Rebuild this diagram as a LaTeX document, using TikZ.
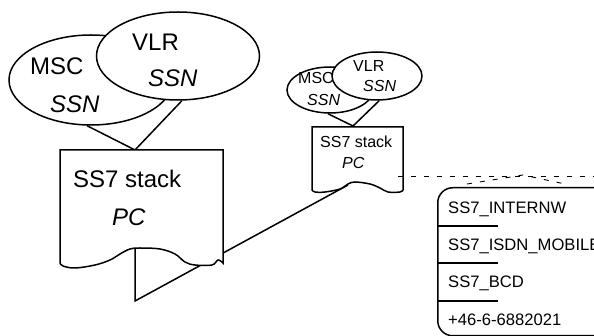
\documentclass[tikz,border=0pt]{standalone}
\usepackage{fontspec}
\setmainfont{Liberation Sans}
\usetikzlibrary{shapes.geometric}

\begin{document}
\begin{tikzpicture}[x=1pt, y=-1pt,
    bubble/.style={draw, ellipse, fill=white, line width=1.5pt, inner sep=0pt},
    bigtxt/.style={font=\fontsize{24}{28}\selectfont, anchor=base west, inner sep=0pt},
    smalltxt/.style={font=\fontsize{16}{19}\selectfont, anchor=base west, inner sep=0pt},
    wire/.style={line width=1.5pt},
    dashline/.style={line width=0.9pt, dash pattern=on 5pt off 8pt}
  ]
    \useasboundingbox (0,0) rectangle (594,336);
    \clip (0,0) rectangle (594,336);

    % Large node: MSC + VLR
    \node[bubble, minimum width=164pt, minimum height=90pt] (mscA) at (91,80) {};
    \node[bubble, minimum width=163pt, minimum height=88pt] (vlrA) at (178,56) {};
    \node[bigtxt] (mscAname) at (30,75) {MSC};
    \node[bigtxt] (mscAssn) at (50,113) {\itshape SSN};
    \node[bigtxt] (vlrAname) at (132,51) {VLR};
    \node[bigtxt] (vlrAssn) at (148,87) {\itshape SSN};

    % Small node: MSC + VLR
    \node[bubble, minimum width=86pt, minimum height=46pt] (mscB) at (330,90) {};
    \node[bubble, minimum width=90pt, minimum height=48pt] (vlrB) at (377,76) {};
    \node[smalltxt] (mscBname) at (298,84) {MSC};
    \node[smalltxt] (mscBssn) at (307,106) {\itshape SSN};
    \node[smalltxt] (vlrBname) at (353,72) {VLR};
    \node[smalltxt] (vlrBssn) at (363,92) {\itshape SSN};

    \coordinate (stackAtop) at (135,150);
    \coordinate (stackAbot) at (135,249);
    \coordinate (bend) at (135,301);
    \coordinate (stackBtop) at (353,126);
    \coordinate (stackBbot) at (348,185);
    \coordinate (stackBedge) at (398,176);
    \coordinate (tip) at (523,175);

    % links
    \draw[wire] (mscA.265) -- (stackAtop) -- (vlrA.275);
    \draw[wire] (mscB.265) -- (stackBtop) -- (vlrB.275);
    \draw[wire] (stackAbot) -- (bend) -- (stackBbot);

    % SS7 stacks (torn pages)
    \draw[wire, fill=white] (60,150) -- (223,150) -- (223,263)
      -- plot[smooth, tension=0.6] coordinates {(223,263) (218,260) (212,265)
        (195,265) (185,262) (175,254) (160,249) (140,248) (130,249) (120,254)
        (110,260) (95,265) (75,268) (63,266) (60,263)} -- cycle;
    \node[bigtxt] (stackAname) at (73,188) {SS7 stack};
    \node[bigtxt] (stackApc) at (112,226) {\itshape PC};

    \draw[wire, fill=white] (312,127) -- (403,127) -- (403,190)
      -- plot[smooth, tension=0.6] coordinates {(403,190) (400,192) (388,192)
        (380,188) (370,184) (355,182) (348,184) (340,189) (325,192)
        (315,192) (312,190)} -- cycle;
    \node[smalltxt] (stackBname) at (320,148) {SS7 stack};
    \node[smalltxt] (stackBpc) at (342,169) {\itshape PC};

    % address box
    \draw[dashline] (stackBedge) -- (594,176);
    \draw[dashline] (467,184) -- (tip) -- (565,184);
    \node[draw, line width=1.5pt, rounded corners=15pt, anchor=north west,
          minimum width=173pt, minimum height=148pt] (addr) at (437,187) {};
    \foreach \y in {226,263,301}
      \draw[wire] (addr.west |- 0,\y) -- ++(61,0);
    \node[smalltxt, font=\fontsize{16.6}{19}\selectfont] (numA) at (448,214) {SS7\_INTERNW};
    \node[smalltxt, font=\fontsize{16.6}{19}\selectfont] (numB) at (448,251) {SS7\_ISDN\_MOBILE};
    \node[smalltxt, font=\fontsize{16.6}{19}\selectfont] (numC) at (448,288) {SS7\_BCD};
    \node[smalltxt, font=\fontsize{16.6}{19}\selectfont] (numD) at (448,326) {+46-6-6882021};
  \end{tikzpicture}
\end{document}
